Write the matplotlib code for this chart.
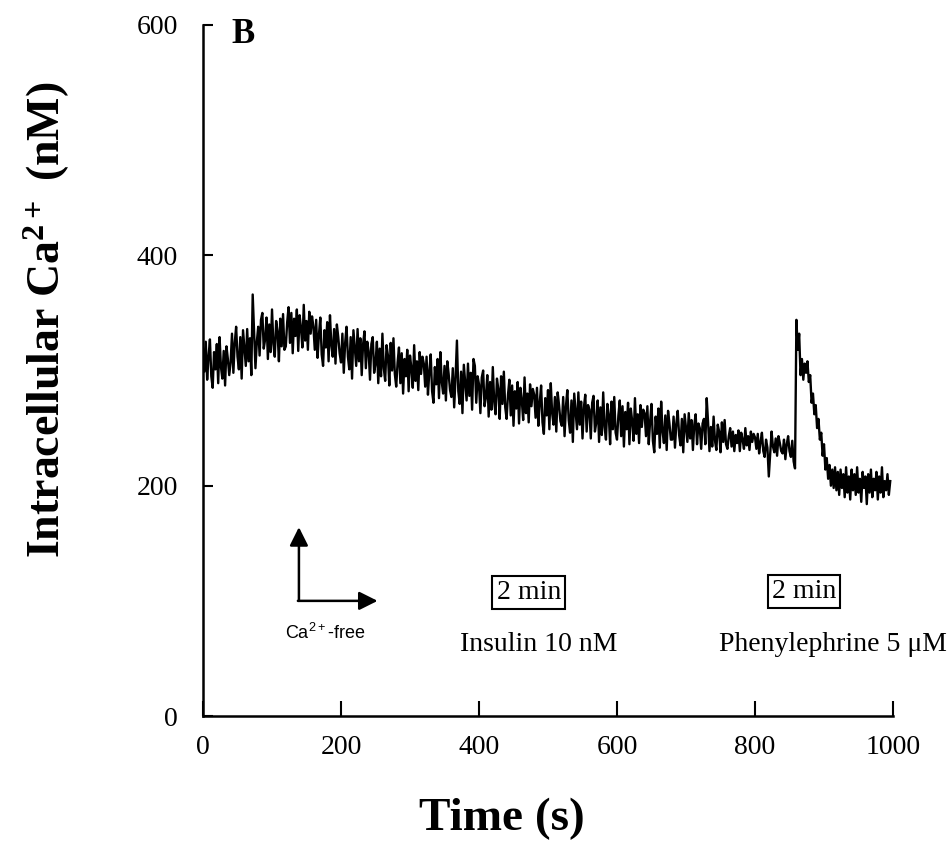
import numpy as np
import matplotlib
matplotlib.use("Agg")
import matplotlib.pyplot as plt

plt.rcParams['font.family'] = ['Liberation Serif', 'DejaVu Serif']
plt.rcParams['mathtext.fontset'] = 'custom'
plt.rcParams['mathtext.rm'] = 'Liberation Serif'
plt.rcParams['mathtext.bf'] = 'Liberation Serif:bold'

# ---- data ----
# baseline / insulin period, sampled every 2 s from 0 to 856 s
t_rest = np.arange(0, 857, 2)
ca_rest = [
    319, 299, 325, 292, 312, 327, 295, 285, 316, 301, 323, 289, 329, 303, 293, 317, 287, 321, 310, 296,
    307, 332, 298, 324, 338, 312, 301, 329, 293, 335, 319, 304, 336, 308, 328, 296, 366, 334, 302, 325,
    338, 313, 344, 350, 319, 327, 346, 310, 340, 316, 353, 323, 312, 343, 334, 308, 345, 321, 349, 318,
    321, 342, 355, 324, 350, 315, 345, 330, 353, 317, 348, 337, 320, 357, 326, 343, 318, 351, 332, 347,
    338, 318, 344, 311, 331, 346, 314, 304, 335, 320, 342, 308, 348, 322, 312, 336, 306, 340, 329, 315,
    307, 332, 298, 324, 338, 312, 301, 329, 293, 335, 319, 304, 336, 308, 328, 296, 323, 334, 302, 325,
    317, 292, 323, 329, 298, 306, 325, 289, 319, 295, 332, 302, 291, 322, 313, 287, 324, 300, 328, 297,
    286, 307, 320, 289, 315, 280, 310, 295, 318, 282, 313, 302, 285, 322, 291, 308, 283, 316, 297, 312,
    306, 286, 312, 279, 299, 314, 282, 272, 303, 288, 310, 276, 316, 290, 280, 304, 274, 308, 297, 283,
    277, 302, 268, 294, 326, 282, 271, 299, 263, 305, 289, 274, 306, 278, 298, 266, 310, 304, 272, 295,
    288, 263, 294, 300, 269, 277, 296, 260, 290, 266, 303, 273, 262, 293, 284, 258, 295, 271, 299, 268,
    258, 279, 292, 261, 287, 252, 282, 267, 290, 254, 285, 274, 257, 294, 263, 280, 255, 288, 269, 284,
    279, 259, 285, 252, 272, 287, 255, 245, 276, 261, 283, 249, 289, 263, 253, 277, 247, 281, 270, 256,
    252, 277, 243, 269, 283, 257, 246, 274, 238, 280, 264, 249, 281, 253, 273, 241, 268, 279, 247, 270,
    266, 241, 272, 278, 247, 255, 274, 238, 268, 244, 281, 251, 240, 271, 262, 236, 273, 249, 277, 246,
    240, 261, 274, 243, 269, 234, 264, 249, 272, 236, 267, 256, 239, 276, 245, 262, 237, 270, 251, 266,
    263, 243, 269, 236, 256, 271, 239, 229, 260, 245, 267, 233, 273, 247, 237, 261, 231, 265, 254, 240,
    240, 260, 233, 254, 265, 244, 235, 258, 229, 262, 250, 238, 263, 241, 257, 231, 253, 262, 236, 254,
    250, 232, 254, 258, 236, 276, 255, 230, 251, 234, 260, 239, 231, 253, 247, 229, 255, 238, 257, 236,
    232, 243, 250, 234, 247, 230, 244, 237, 248, 230, 246, 240, 232, 250, 235, 243, 231, 247, 238, 245,
    242, 232, 245, 228, 238, 246, 230, 225, 240, 233, 208, 227, 247, 234, 229, 241, 226, 243, 237, 230,
    228, 240, 223, 236, 243, 230, 225, 239, 221,
]
# phenylephrine response, sampled every 2 s from 858 to 996 s
t_pe = np.arange(858, 997, 2)
ca_pe = [
    215, 344, 318, 332, 296, 310, 292, 306, 298, 308,
    290, 296, 272, 280, 262, 270, 250, 258, 240, 246,
    226, 236, 214, 224, 206, 218, 200, 214, 198, 216,
    196, 212, 192, 214, 198, 210, 190, 216, 194, 208,
    188, 214, 196, 210, 192, 216, 194, 206, 186, 212,
    198, 208, 184, 210, 194, 214, 190, 206, 196, 212,
    188, 208, 194, 216, 190, 204, 196, 210, 192, 204,
]

x_ticks = [0, 200, 400, 600, 800, 1000]
y_ticks = [0, 200, 400, 600]

t_all = np.concatenate([t_rest, t_pe])
ca_all = np.concatenate([ca_rest, ca_pe])

fig = plt.figure(figsize=(9.5, 8.5), dpi=100)
ax = fig.add_axes([0.2137, 0.1576, 0.7263, 0.813])

ax.plot(t_all, ca_all, color='black', lw=1.7)

ax.set_xlim(0, 1000)
ax.set_ylim(0, 600)
ax.set_xticks(x_ticks)
ax.set_yticks(y_ticks)
for s in ['top', 'right']:
    ax.spines[s].set_visible(False)
for s in ['left', 'bottom']:
    ax.spines[s].set_linewidth(1.8)
ax.tick_params(axis='x', direction='in', length=11, width=1.5, labelsize=20, pad=14)
ax.tick_params(axis='y', direction='in', length=7.5, width=1.5, labelsize=20, pad=18)

ax.set_xlabel('Time (s)', fontsize=34, fontweight='bold')
ax.xaxis.set_label_coords(0.433, -0.118)
ax.set_ylabel(r'Intracellular Ca$\mathregular{^{2+}}$ (nM)', fontsize=33,
              fontweight='bold')
ax.yaxis.set_label_coords(-0.19, 0.573)

ax.text(58, 592, 'B', fontsize=25, fontweight='bold', ha='center', va='center')

# Ca2+-free arrows
arr = dict(arrowstyle='-|>', color='black', lw=1.8, mutation_scale=28,
           shrinkA=0, shrinkB=0)
ax.annotate('', xy=(139, 164), xytext=(139, 100), arrowprops=arr)
ax.annotate('', xy=(253, 100), xytext=(137.5, 100), arrowprops=arr)
ax.text(177, 72, r'Ca$\mathregular{^{2+}}$-free', fontsize=13,
        family=['Liberation Sans', 'DejaVu Sans'], ha='center', va='center')

box = dict(boxstyle='square,pad=0.15', fc='white', ec='black', lw=1.5)
ax.text(472, 107, '2 min', fontsize=20, ha='center', va='center', bbox=box)
ax.text(486, 62, 'Insulin 10 nM', fontsize=20, ha='center', va='center')
ax.text(871, 108, '2 min', fontsize=20, ha='center', va='center', bbox=box)
ax.text(913, 62, 'Phenylephrine 5 μM', fontsize=20, ha='center', va='center')

fig.savefig('out.png', dpi=100)
